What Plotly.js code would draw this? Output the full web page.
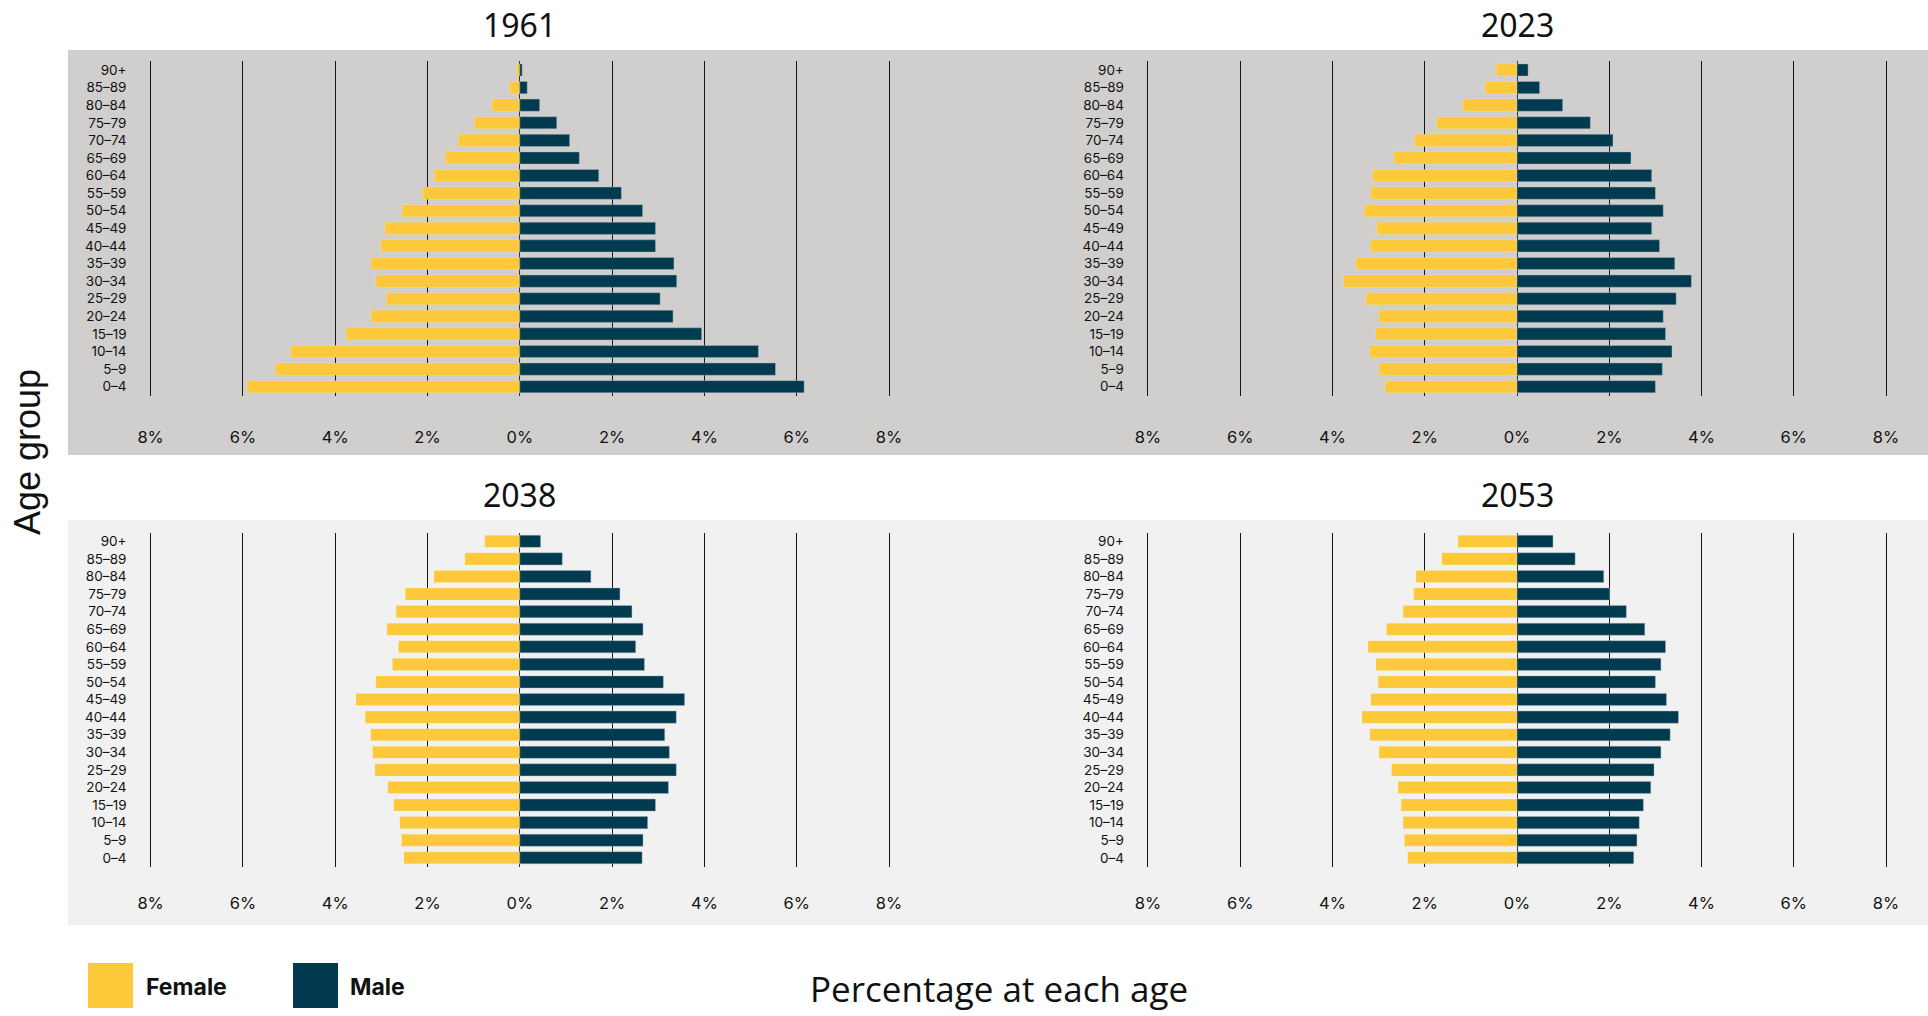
<!DOCTYPE html>
<html>
<head>
<meta charset="utf-8">
<script src="https://cdn.plot.ly/plotly-3.0.1.min.js"></script>
<style>
  html, body { margin: 0; padding: 0; background: #ffffff; }
  #chart { width: 1928px; height: 1016px; }
</style>
</head>
<body>
<div id="chart"></div>
<script>
// ---- Data (bottom-up: 0–4 ... 90+) ----
const ageGroups = ["0–4","5–9","10–14","15–19","20–24","25–29","30–34","35–39","40–44","45–49","50–54","55–59","60–64","65–69","70–74","75–79","80–84","85–89","90+"];
const panelYears = ["1961", "2023", "2038", "2053"];

const female1961 = [5.91, 5.29, 4.96, 3.76, 3.22, 2.89, 3.12, 3.22, 3.01, 2.92, 2.55, 2.11, 1.85, 1.61, 1.33, 0.98, 0.60, 0.22, 0.07];
const male1961   = [6.16, 5.54, 5.17, 3.94, 3.32, 3.04, 3.40, 3.34, 2.94, 2.94, 2.66, 2.20, 1.71, 1.29, 1.08, 0.80, 0.43, 0.16, 0.05];

const female2023 = [2.86, 2.99, 3.19, 3.06, 2.99, 3.27, 3.76, 3.49, 3.17, 3.04, 3.31, 3.17, 3.13, 2.67, 2.22, 1.74, 1.18, 0.69, 0.45];
const male2023   = [3.00, 3.15, 3.36, 3.22, 3.17, 3.45, 3.78, 3.42, 3.09, 2.92, 3.17, 3.00, 2.92, 2.47, 2.08, 1.59, 0.99, 0.49, 0.24];

const female2038 = [2.51, 2.56, 2.60, 2.73, 2.86, 3.14, 3.19, 3.23, 3.35, 3.55, 3.12, 2.76, 2.63, 2.88, 2.68, 2.48, 1.86, 1.19, 0.76];
const male2038   = [2.65, 2.67, 2.77, 2.94, 3.22, 3.39, 3.24, 3.14, 3.39, 3.57, 3.11, 2.70, 2.51, 2.67, 2.43, 2.17, 1.54, 0.92, 0.45];

const female2053 = [2.37, 2.44, 2.47, 2.51, 2.58, 2.72, 2.99, 3.19, 3.36, 3.17, 3.01, 3.06, 3.23, 2.83, 2.47, 2.24, 2.19, 1.63, 1.28];
const male2053   = [2.53, 2.60, 2.65, 2.74, 2.90, 2.97, 3.12, 3.32, 3.50, 3.24, 3.00, 3.12, 3.22, 2.77, 2.37, 2.01, 1.88, 1.26, 0.78];

const tickValues = [-8, -6, -4, -2, 0, 2, 4, 6, 8];
const tickLabels = ["8%", "6%", "4%", "2%", "0%", "2%", "4%", "6%", "8%"];

// ---- Styling ----
const W = 1928, H = 1016;
const px = v => v / W;
const py = v => 1 - v / H;
const FEMALE = "#fdc93b";
const MALE = "#023a50";

const femaleSeries = [female1961, female2023, female2038, female2053];
const maleSeries = [male1961, male2023, male2038, male2053];

// panel geometry in pixels
const colX = [[127.5, 912.1], [1124.9, 1909.1]];
const rowY = [[61.2, 395.5], [532.5, 866.6]];
const zeroX = [519.8, 1517];
const titleY = [25, 494];

const traces = [];
const layout = {
  width: W, height: H,
  margin: {l: 0, r: 0, t: 0, b: 0},
  paper_bgcolor: "#ffffff",
  plot_bgcolor: "rgba(0,0,0,0)",
  barmode: "relative",
  bargap: 0.31,
  showlegend: false,
  font: {family: "Inter, 'Noto Sans', sans-serif", color: "#111"},
  shapes: [],
  annotations: []
};

// background bands
layout.shapes.push({type: "rect", xref: "paper", yref: "paper", layer: "below",
  x0: px(68), x1: 1, y0: py(455), y1: py(50), fillcolor: "#d0cfcd", line: {width: 0}});
layout.shapes.push({type: "rect", xref: "paper", yref: "paper", layer: "below",
  x0: px(68), x1: 1, y0: py(925), y1: py(520), fillcolor: "#f1f1f1", line: {width: 0}});

for (let i = 0; i < 4; i++) {
  const row = Math.floor(i / 2), col = i % 2;
  const n = i + 1;
  const xa = n === 1 ? "x" : "x" + n;
  const ya = n === 1 ? "y" : "y" + n;
  traces.push({
    type: "bar", orientation: "h", name: "Female",
    y: ageGroups, x: femaleSeries[i].map(v => -v),
    xaxis: xa, yaxis: ya,
    marker: {color: FEMALE, line: {color: "rgba(255,255,255,0.25)", width: 0.6}},
    hoverinfo: "skip"
  });
  traces.push({
    type: "bar", orientation: "h", name: "Male",
    y: ageGroups, x: maleSeries[i],
    xaxis: xa, yaxis: ya,
    marker: {color: MALE, line: {color: "rgba(170,185,195,0.55)", width: 0.8}},
    hoverinfo: "skip"
  });
  const xKey = n === 1 ? "xaxis" : "xaxis" + n;
  const yKey = n === 1 ? "yaxis" : "yaxis" + n;
  layout[xKey] = {
    domain: [px(colX[col][0]), px(colX[col][1])],
    anchor: ya,
    range: [-8.5, 8.5],
    tickmode: "array", tickvals: tickValues, ticktext: tickLabels,
    showgrid: true, gridcolor: "#161616", gridwidth: 1,
    zeroline: true, zerolinecolor: "#333", zerolinewidth: 1,
    showline: false,
    ticks: "outside", ticklen: row === 0 ? 27 : 22, tickcolor: "rgba(0,0,0,0)",
    tickfont: {size: 16.5, color: "#111", family: "Inter, sans-serif"},
    fixedrange: true
  };
  layout[yKey] = {
    domain: [py(rowY[row][1]), py(rowY[row][0])],
    anchor: xa,
    type: "category",
    categoryorder: "array", categoryarray: ageGroups,
    range: [-0.5, 18.5],
    showgrid: false, zeroline: false, showline: false,
    ticks: "",
    tickfont: {size: 13.5, color: "#111", family: "Inter, sans-serif"},
    fixedrange: true
  };
  layout.annotations.push({
    text: panelYears[i], xref: "paper", yref: "paper",
    x: px(zeroX[col]), y: py(titleY[row]), xanchor: "center", yanchor: "middle",
    showarrow: false, font: {size: 32, color: "#111", family: "'Noto Sans', sans-serif"}
  });
}

// axis titles
layout.annotations.push({
  text: "Age group", xref: "paper", yref: "paper",
  x: px(27), y: py(452), xanchor: "center", yanchor: "middle", textangle: -90,
  showarrow: false, font: {size: 36, color: "#111", family: "'Liberation Sans', Arial, sans-serif"}
});
layout.annotations.push({
  text: "Percentage at each age", xref: "paper", yref: "paper",
  x: px(999), y: py(988), xanchor: "center", yanchor: "middle",
  showarrow: false, font: {size: 35, color: "#111", family: "'Open Sans', sans-serif"}
});

// legend
const legendItems = [
  {label: "Female", color: FEMALE, x0: 88, textX: 144},
  {label: "Male", color: MALE, x0: 293, textX: 348}
];
legendItems.forEach(it => {
  layout.shapes.push({type: "rect", xref: "paper", yref: "paper",
    x0: px(it.x0), x1: px(it.x0 + 45), y0: py(1008), y1: py(963),
    fillcolor: it.color, line: {width: 0}});
  layout.annotations.push({
    text: "<b>" + it.label + "</b>", xref: "paper", yref: "paper",
    x: px(it.textX), y: py(987), xanchor: "left", yanchor: "middle",
    showarrow: false, font: {size: 23, color: "#111", family: "Inter, sans-serif"}
  });
});

Plotly.newPlot("chart", traces, layout, {displayModeBar: false, staticPlot: true});
</script>
</body>
</html>
